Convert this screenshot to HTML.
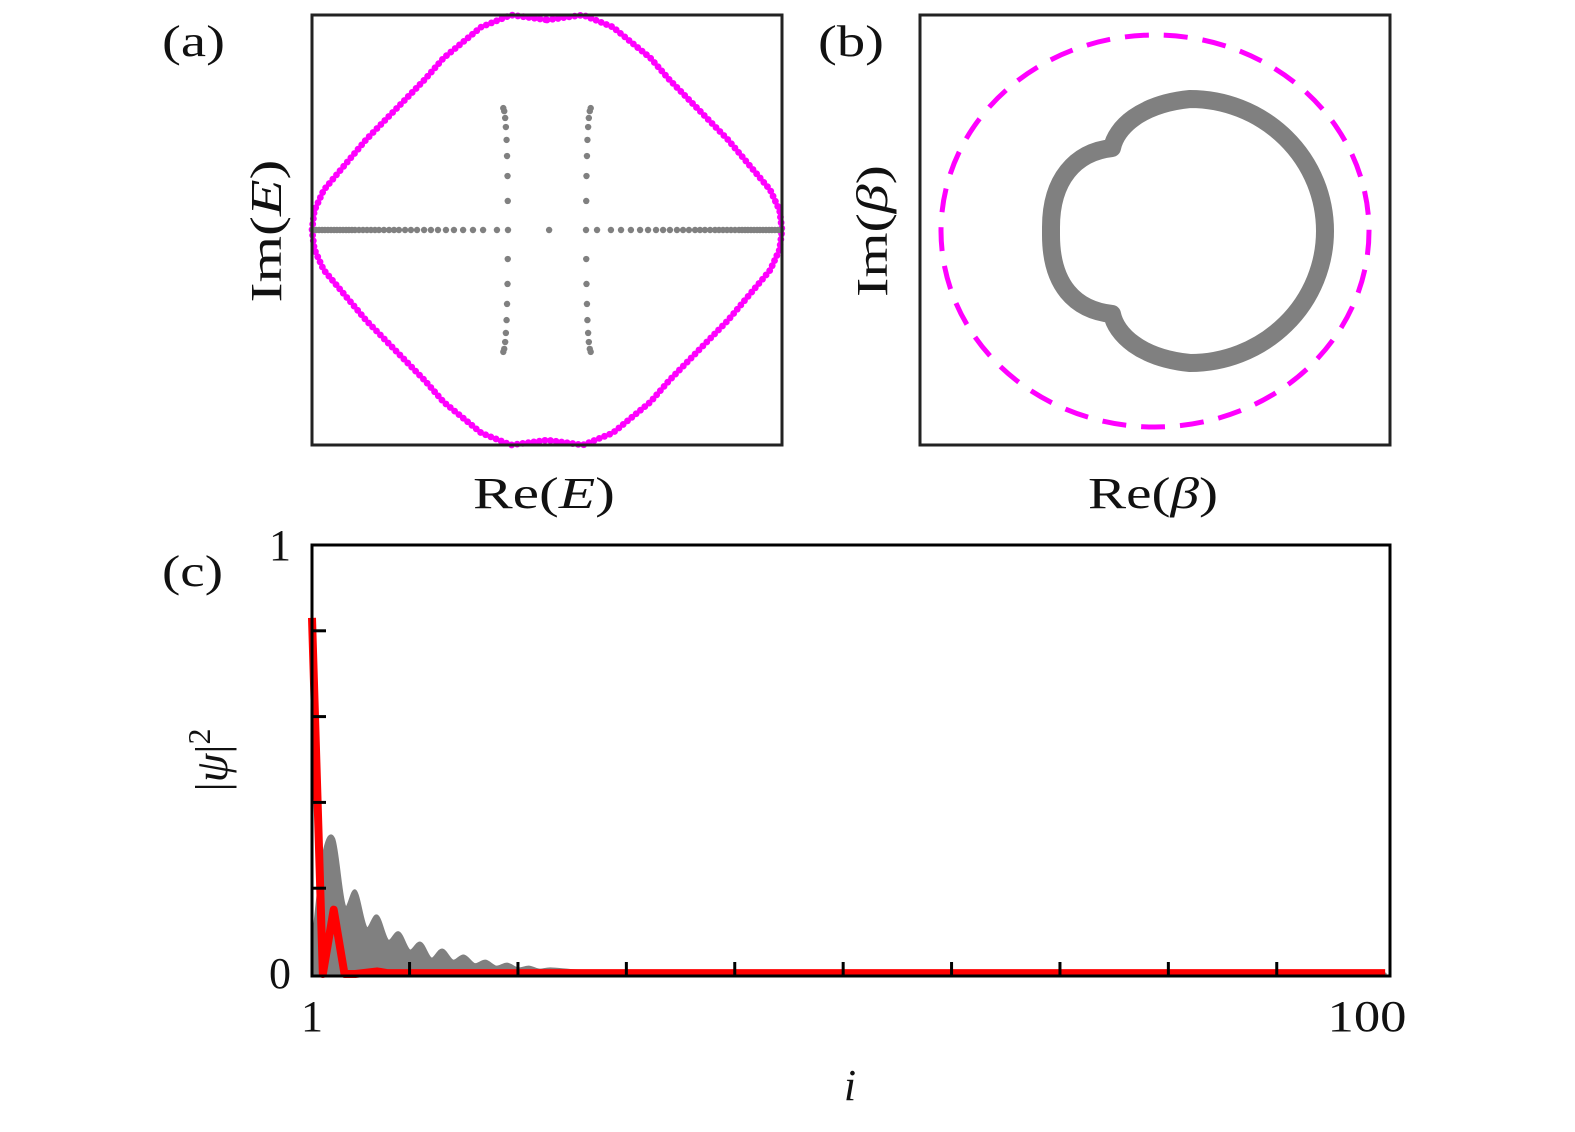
<!DOCTYPE html>
<html><head><meta charset="utf-8">
<style>
html,body{margin:0;padding:0;background:#fff;}
svg{display:block;}
text{font-family:"Liberation Serif","DejaVu Serif",serif;fill:#111;}
</style></head>
<body>
<svg id="fig" width="1575" height="1132" viewBox="0 0 1575 1132" xmlns="http://www.w3.org/2000/svg">
<g id="pa"></g>
<g id="pb">
  <ellipse cx="1155" cy="231" rx="214" ry="196" fill="none" stroke="#ff00ff" stroke-width="5" stroke-dasharray="24 15"/>
  <path d="M1112,148 C1116,128 1140,104 1190,99 A135 132 0 0 1 1190 363 C1140,358 1116,334 1112,314 C1075,310 1051,285 1051,235 L1051,227 C1051,180 1075,152 1112,148 Z" fill="none" stroke="#808080" stroke-width="18" stroke-linejoin="round"/>
  <rect x="920" y="15" width="470" height="430" fill="none" stroke="#222" stroke-width="3"/>
</g>
<g id="pc"></g>
<text x="162" y="56" font-size="44" textLength="63" lengthAdjust="spacingAndGlyphs">(a)</text>
<text x="818" y="56" font-size="44" textLength="66" lengthAdjust="spacingAndGlyphs">(b)</text>
<text x="162" y="586" font-size="44" textLength="61" lengthAdjust="spacingAndGlyphs">(c)</text>
<text transform="translate(281,231) rotate(-90)" text-anchor="middle" font-size="44" textLength="143" lengthAdjust="spacingAndGlyphs">Im(<tspan font-style="italic">E</tspan>)</text>
<text x="544" y="508" text-anchor="middle" font-size="44" textLength="142" lengthAdjust="spacingAndGlyphs">Re(<tspan font-style="italic">E</tspan>)</text>
<text transform="translate(887,231) rotate(-90)" text-anchor="middle" font-size="44" textLength="132" lengthAdjust="spacingAndGlyphs">Im(<tspan font-style="italic">β</tspan>)</text>
<text x="1153" y="508" text-anchor="middle" font-size="44" textLength="130" lengthAdjust="spacingAndGlyphs">Re(<tspan font-style="italic">β</tspan>)</text>
<text transform="translate(227,760) rotate(-90)" text-anchor="middle" font-size="46">|<tspan font-style="italic">ψ</tspan>|<tspan dy="-17" font-size="32">2</tspan></text>
<text x="850" y="1100" text-anchor="middle" font-size="44" font-style="italic">i</text>
<text x="280" y="560" text-anchor="middle" font-size="44">1</text>
<text x="280" y="988" text-anchor="middle" font-size="44">0</text>
<text x="312" y="1031" text-anchor="middle" font-size="44">1</text>
<text x="1367" y="1031" text-anchor="middle" font-size="44" textLength="79" lengthAdjust="spacingAndGlyphs">100</text>
</svg>
<script>
// Panel (a) data (normalized Re, Im in [-1,1]); quarter of OBC outline
const obcRe = [0,0.153,0.28,0.44,0.52,0.77,0.95,0.99,1.0];
const obcImQ = [0.977,1.0,0.944,0.80,0.70,0.42,0.186,0.09,0];
const realRe = [0.166,0.213,0.272,0.315,0.357,0.396,0.430,0.464,0.494,0.523,0.553,0.579,0.604,0.630,0.651,0.672,0.694,0.715,0.732,0.749,0.766,0.783,0.800,0.817,0.830,0.843,0.855,0.868,0.881,0.894,0.906,0.919,0.932,0.945,0.957,0.970,0.983,0.996];
const vertIm = [0,0.135,0.251,0.344,0.419,0.479,0.521,0.553,0.567];
const vertRe = [0.166,0.167,0.168,0.170,0.172,0.175,0.178,0.182,0.186];
// Panel (c) data
const gIdx = [1,2,3,4,5,6,7,8,9,10,11,12,13,14,15,16,17,18,19,20,21,22,23,25,27,29,31,35,40,50,60,80,100];
const gVal = [0.05,0.27,0.315,0.158,0.193,0.107,0.135,0.077,0.096,0.054,0.072,0.035,0.056,0.03,0.042,0.022,0.03,0.016,0.023,0.012,0.016,0.009,0.012,0.008,0.006,0.005,0.004,0.003,0.002,0.001,0.0005,0.0002,0.0001];
const rIdx = [1,2,3,4,5,6,7,8,9,10,20,40,60,80,100];
const rVal = [0.83,0.0,0.15,0.0,0.0,0.003,0.006,0.002,0.002,0.002,0.002,0.002,0.002,0.002,0.002];
const xTicks = [10,20,30,40,50,60,70,80,90];
const yTicks = [0.2,0.4,0.6,0.8];

const NS='http://www.w3.org/2000/svg';
function mk(tag,attrs,parent){const e=document.createElementNS(NS,tag);for(const k in attrs)e.setAttribute(k,attrs[k]);parent.appendChild(e);return e;}

const ax=u=>547+u*235, ay=v=>230-v*215;
const pa=document.getElementById('pa');
let right=[];
for(let i=0;i<obcRe.length;i++)right.push([obcRe[i],obcImQ[i]]);
for(let i=obcRe.length-2;i>=0;i--)right.push([obcRe[i],-obcImQ[i]]);
let leftH=[];
for(let i=right.length-2;i>=1;i--)leftH.push([-right[i][0],right[i][1]]);
const pts=right.concat(leftH);
const P=pts.map(p=>[ax(p[0]),ay(p[1])]);P.push(P[0]);
const step=5.6;let acc=0;
const magG=mk('g',{},pa);


for(let i=0;i<P.length-1;i++){
  const [x1,y1]=P[i],[x2,y2]=P[i+1];const L=Math.hypot(x2-x1,y2-y1);
  let t=acc;
  while(t<L){const c=mk('circle',{cx:x1+(x2-x1)*t/L,cy:y1+(y2-y1)*t/L,r:3.4,fill:'#ff00ff'},magG);
    
    
    t+=step;}
  acc=t-L;
}
const grayG=mk('g',{},pa);


function gdot(u,v){const c=mk('circle',{cx:ax(u),cy:ay(v),r:3.2,fill:'#808080'},grayG);
  
  }
gdot(0.009,0);
realRe.forEach(r=>{gdot(r,0);gdot(-r,0);});
for(let i=1;i<vertIm.length;i++){[1,-1].forEach(s=>{[1,-1].forEach(t=>gdot(s*vertRe[i],t*vertIm[i]));});}
const fa=mk('rect',{x:312,y:15,width:470,height:430,fill:'none',stroke:'#222','stroke-width':3},pa);



// Panel c
const pc=document.getElementById('pc');
const cx=i=>312+(i-1)*10.84, cy=v=>974-v*429;
const Q=gIdx.map((g,k)=>[cx(g),cy(gVal[k])]);
let d='M'+cx(gIdx[0])+','+cy(0)+' L'+Q[0][0]+','+Q[0][1];
for(let k=0;k<Q.length-1;k++){
  const p0=Q[Math.max(0,k-1)],p1=Q[k],p2=Q[k+1],p3=Q[Math.min(Q.length-1,k+2)];
  const c1=[p1[0]+(p2[0]-p0[0])/6,p1[1]+(p2[1]-p0[1])/6];
  const c2=[p2[0]-(p3[0]-p1[0])/6,p2[1]-(p3[1]-p1[1])/6];
  d+=' C'+c1[0]+','+c1[1]+' '+c2[0]+','+c2[1]+' '+p2[0]+','+p2[1];
}
d+=' L'+cx(gIdx[gIdx.length-1])+','+cy(0)+' Z';
const ga=mk('path',{d:d,fill:'#808080',stroke:'#808080','stroke-width':3,'stroke-linejoin':'round'},pc);


const rp=mk('polyline',{points:rIdx.map((r,k)=>cx(r)+','+cy(rVal[k])).join(' '),fill:'none',stroke:'#ff0000','stroke-width':8,'stroke-linejoin':'round'},pc);


const fc=mk('rect',{x:312,y:545,width:1078,height:431,fill:'none',stroke:'#000','stroke-width':3},pc);


xTicks.forEach(t=>{const l=mk('line',{x1:cx(t),x2:cx(t),y1:976,y2:962,stroke:'#000','stroke-width':3},pc);
  
  });
yTicks.forEach(t=>{const l=mk('line',{x1:312,x2:326,y1:cy(t),y2:cy(t),stroke:'#000','stroke-width':3},pc);
  
  });
</script>
</body></html>
